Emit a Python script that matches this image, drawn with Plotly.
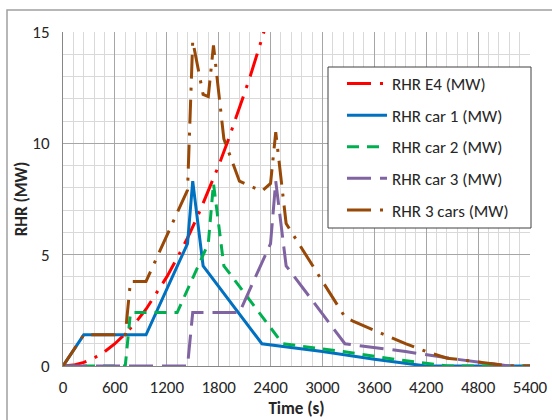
import plotly.graph_objects as go

# ---- data ----
e4_t = [0, 120, 240, 360, 480, 600, 720, 840, 960, 1080, 1200, 1320, 1440,
        1560, 1680, 1800, 1920, 2040, 2160, 2280, 2400]
e4_v = [0, 0.04, 0.16, 0.36, 0.64, 1.0, 1.45, 1.95, 2.55, 3.25, 4.0, 4.85, 5.75,
        6.75, 7.85, 9.0, 10.25, 11.55, 12.95, 14.45, 16.0]

car1_t = [0, 240, 960, 1440, 1500, 1620, 2300, 2400, 3000, 3600, 4200, 5400]
car1_v = [0, 1.4, 1.4, 5.5, 8.3, 4.5, 1.0, 0.95, 0.65, 0.3, 0, 0]

car2_t = [0, 720, 780, 1320, 1680, 1740, 1860, 2540, 2640, 3240, 3840, 4440, 5400]
car2_v = [0, 0, 2.4, 2.4, 5.5, 8.2, 4.5, 1.0, 0.95, 0.65, 0.3, 0, 0]

car3_t = [0, 1440, 1500, 2040, 2400, 2460, 2580, 3260, 3360, 3960, 4560, 5160, 5400]
car3_v = [0, 0, 2.4, 2.4, 5.5, 8.3, 4.5, 1.0, 0.95, 0.65, 0.3, 0, 0]

cars3_t = [0, 240, 720, 780, 960, 1440, 1500, 1620, 1680, 1740, 1860, 2040, 2300,
           2400, 2460, 2580, 3260, 3360, 3600, 3840, 3960, 4200, 4440, 4560, 5160, 5400]
cars3_v = [0, 1.4, 1.4, 3.8, 3.8, 7.9, 14.6, 12.2, 12.1, 14.4, 10.2, 8.3, 7.85,
           8.2, 10.5, 6.4, 2.2, 2.0, 1.6, 1.2, 1.0, 0.65, 0.35, 0.3, 0, 0]

series_names = ["RHR E4 (MW)", "RHR car 1 (MW)", "RHR car 2 (MW)",
                "RHR car 3 (MW)", "RHR 3 cars (MW)"]
x_ticks = [0, 600, 1200, 1800, 2400, 3000, 3600, 4200, 4800, 5400]
y_ticks = [0, 5, 10, 15]

FONT = "Carlito, Lato, sans-serif"
TXT = "#262626"

styles = [
    dict(color="#FF0000", dash="24px,9px,3px,9px"),
    dict(color="#0070C0", dash="solid"),
    dict(color="#00B050", dash="12px,8px"),
    dict(color="#8064A2", dash="24px,9px"),
    dict(color="#984807", dash="24px,9px,3px,9px"),
]
data = [(e4_t, e4_v), (car1_t, car1_v), (car2_t, car2_v), (car3_t, car3_v),
        (cars3_t, cars3_v)]

fig = go.Figure()
for i, ((t, v), name, st) in enumerate(zip(data, series_names, styles)):
    fig.add_trace(go.Scatter(
        x=t, y=v, mode="lines", name=name, legendgroup=f"g{i}",
        line=dict(color=st["color"], dash=st["dash"], width=3),
    ))

W, H = 552, 420
L, R, T, B = 63, 22, 32, 54
pw, ph = W - L - R, H - T - B

def px_x(p):
    return (p - L) / pw

def px_y(p):
    return (H - B - p) / ph

fig.update_layout(
    width=W, height=H,
    margin=dict(l=L, r=R, t=T, b=B, autoexpand=False),
    paper_bgcolor="white", plot_bgcolor="white",
    font=dict(family=FONT, size=17, color=TXT),
    showlegend=True,
    legend=dict(
        x=px_x(342), y=px_y(66), xanchor="left", yanchor="top",
        bgcolor="rgba(0,0,0,0)", borderwidth=0,
        font=dict(family=FONT, size=17, color=TXT),
        tracegroupgap=6.5, itemwidth=40,
    ),
    xaxis=dict(
        range=[0, 5400], tickvals=x_ticks, ticktext=[str(v) for v in x_ticks],
        showgrid=True, gridcolor="#A6A6A6", gridwidth=1,
        minor=dict(dtick=120, showgrid=True, gridcolor="#D9D9D9", gridwidth=1),
        showline=True, linecolor="#868686", linewidth=1, zeroline=False,
        ticks="", ticklabelstandoff=6,
        tickfont=dict(family=FONT, size=17, color=TXT),
        title=dict(text="<b>Time (s)</b>", standoff=4,
                   font=dict(family=FONT, size=17, color=TXT)),
        automargin=False, fixedrange=True,
    ),
    yaxis=dict(
        range=[0, 15], tickvals=y_ticks, ticktext=[str(v) for v in y_ticks],
        showgrid=True, gridcolor="#A6A6A6", gridwidth=1,
        minor=dict(dtick=1, showgrid=True, gridcolor="#D9D9D9", gridwidth=1),
        showline=True, linecolor="#868686", linewidth=1, zeroline=False,
        ticks="", ticklabelstandoff=9,
        tickfont=dict(family=FONT, size=17, color=TXT),
        title=dict(text="<b>RHR (MW)</b>", standoff=0,
                   font=dict(family=FONT, size=17, color=TXT)),
        automargin=False, fixedrange=True,
    ),
    shapes=[
        dict(type="rect", xref="paper", yref="paper",
             x0=px_x(7), x1=px_x(600), y0=px_y(500), y1=px_y(10),
             line=dict(color="#A0A0A0", width=1.5), layer="below"),
        dict(type="rect", xref="paper", yref="paper",
             x0=px_x(328), x1=px_x(531), y0=px_y(228), y1=px_y(67),
             fillcolor="white", line=dict(color="#404040", width=1),
             layer="above"),
    ],
)

fig.write_html("out.html", config={"displayModeBar": False},
               post_script="document.body.style.margin='0px';")
